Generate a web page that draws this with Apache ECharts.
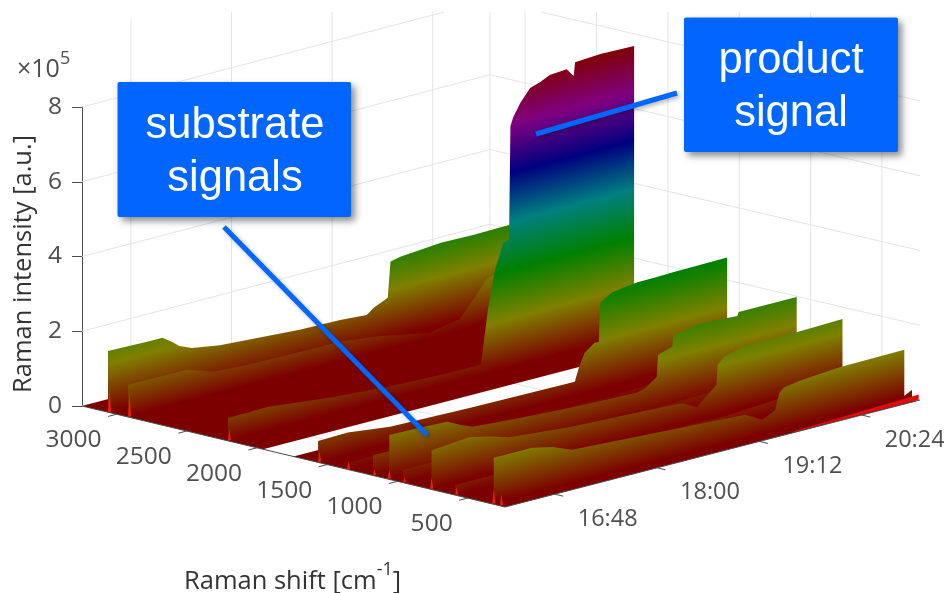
<!DOCTYPE html>
<html>
<head>
<meta charset="utf-8">
<style>
html,body{margin:0;padding:0;background:#fff}
#c{width:944px;height:593px;filter:blur(0.75px)}
</style>
<script src="https://cdn.jsdelivr.net/npm/echarts@6/dist/echarts.min.js"></script>
</head>
<body>
<div id="c"></div>
<script>
// ---- tick labels and axis values (times are minutes after 16:00, intensity in 1e5 a.u.)
const timeTickLabels = ['16:48', '18:00', '19:12', '20:24'];
const timeTicks = [48, 120, 192, 264];
const shiftTicks = [3000, 2500, 2000, 1500, 1000, 500];
const levelTicks = [2, 4, 6, 8];
const timeLimits = [13, 305];
const shiftLimits = [234, 3246];

// ---- band positions (Raman shift, cm-1)
const bandShifts = [3061, 2918, 2207, 1565, 1359, 1174, 1068, 960, 767, 589, 324, 270];

// ---- band time courses
const tA = [13,41,52,59,64,73,93,150,179,198,203,213,214,215,222,251,274,301];
const zA = [1.64,1.61,1.61,1.43,1.27,1.13,1.01,.86,.84,.79,.93,1.10,1.57,2.05,2.11,2.20,2.18,2.20];
const tB = [13,55,74,98,150,164,193,228,250,270,301];
const zB = [.86,.85,.61,.56,.53,.53,.40,.14,.3,1.2,1.5];
const tC = [13,41,88,126,164,193,198,203,209,213,214,216,221,228,235,242,254,259,260,278,302];
const zC = [.61,.63,.44,.33,.28,.27,1.70,2.71,3.38,3.42,6.45,6.67,7.00,7.33,7.42,7.54,7.58,7.35,7.71,7.75,7.73];
const tD = [13,34,64,121,195,198,202,209,212,213,216,221,231,240,252,264,303];
const zD = [.57,.59,.45,.40,.37,.74,1.08,1.28,1.27,2.31,2.39,2.50,2.56,2.60,2.60,2.62,2.64];
const tL1 = [13,60,120,200,303];
const zL1 = [.17,.18,.12,.12,.3];
const tL2 = [13,60,120,200,303];
const zL2 = [.55,.5,.3,.3,.4];
const tE = [14,36,55,64,73,106,142,189,195,203,204,214,215,221,233,260,261,302];
const zE = [1.17,1.15,1.12,.95,.81,.72,.64,.58,.65,.87,1.45,1.57,1.88,1.91,2.00,1.94,2.04,2.04];
const tL3 = [13,34,120,200,303];
const zL3 = [.34,.35,.25,.25,.4];
const tF = [14,41,57,69,112,161,191,201,207,215,216,220,227,234,244,255,279,304];
const zF = [1.03,1.12,.98,.84,.69,.61,.55,.35,.54,.81,1.34,1.50,1.57,1.64,1.65,1.65,1.67,1.70];
const tL4 = [13,60,190,205,225,303];
const zL4 = [.27,.27,.25,.25,.3,.5];
const tG = [14,41,55,69,117,191,203,212,215,218,228,239,258,303];
const zG = [1.23,1.23,1.11,.90,.80,.64,.39,.56,.99,1.10,1.17,1.21,1.26,1.28];
const tL5 = [14,120,250,295,303];
const zL5 = [.05,.05,.06,.1,.26];

// ---- thin bright baseline near the front edge
const edgeShift = 243;
const tEdge = [217, 305];
const zEdge = [.02, .14];

// ---- short spikes at the first scan: height per band
const spikeHeights = [.7, .65, .3, .3, .2, .15, .25, .15, .3, .2, .4, .3];
const spikeTime = 14;

// ---- shift ranges with a near-zero baseline (white gap between them)
const baselineRanges = [[234, 1740], [1957, 3246]];

const bandTimes = [tA, tB, tC, tD, tL1, tL2, tE, tL3, tF, tL4, tG, tL5];
const bandValues = [zA, zB, zC, zD, zL1, zL2, zE, zL3, zF, zL4, zG, zL5];

// ---- colour map: equal steps of intensity up to colormapTop
const colormap = ['#7c0000', '#808000', '#008000', '#008080', '#000080', '#800080', '#800000'];
const colormapTop = 7.8;

// ---- view projection: floor corners on screen
const floorCorners = { frontX: 505, frontY: 507, rightX: 920, rightY: 400, leftX: 82, leftY: 406, backX: 490, backY: 299 };
const pxPerUnit = 299 / 8;
const cropTopY = 12;
const axisColor = '#4a4a4a', gridColor = '#e4e4e6', textColor = '#4f4f4f';
const fontFam = '"Open Sans","Noto Sans",sans-serif';
const tickFont = 24.5, timeFont = 23.5, titleFont = 25.5;

function floorPoint(t, s) {
  const u = (t - timeLimits[0]) / (timeLimits[1] - timeLimits[0]);
  const v = (s - shiftLimits[0]) / (shiftLimits[1] - shiftLimits[0]);
  const c = floorCorners;
  const x = (1 - v) * (c.frontX + u * (c.rightX - c.frontX)) + v * (c.leftX + u * (c.backX - c.leftX));
  const y = (1 - v) * (c.frontY + u * (c.rightY - c.frontY)) + v * (c.leftY + u * (c.backY - c.leftY));
  return [x, y];
}
// data pair in the hidden x axis / real intensity axis
function project(t, s, z) {
  const p = floorPoint(t, s);
  return [p[0], (floorCorners.leftY - p[1]) / pxPerUnit + z];
}
function clipTop(a, b) {
  if (a[1] >= cropTopY && b[1] >= cropTopY) return [a, b];
  const f = (cropTopY - a[1]) / (b[1] - a[1]);
  const m = [a[0] + f * (b[0] - a[0]), cropTopY];
  return a[1] < cropTopY ? [m, b] : [a, m];
}
function line(a, b, color, width) {
  return { type: 'line', shape: { x1: a[0], y1: a[1], x2: b[0], y2: b[1] }, style: { stroke: color, lineWidth: width } };
}

function renderGrid(params, api) {
  const P = (t, s, z) => api.coord(project(t, s, z));
  const kids = [];
  const [t0, t1] = timeLimits, [s0, s1] = shiftLimits;
  const add = (a, b) => { const c = clipTop(a, b); kids.push(line(c[0], c[1], gridColor, 1)); };
  [0].concat(levelTicks).forEach(z => {
    add(P(t0, s1, z), P(t1, s1, z));
    add(P(t1, s1, z), P(t1, s0, z));
  });
  timeTicks.forEach(t => {
    add(P(t, s1, 0), P(t, s1, 10));
    add(P(t, s0, 0), P(t, s1, 0));
  });
  shiftTicks.forEach(s => {
    add(P(t1, s, 0), P(t1, s, 10));
    add(P(t0, s, 0), P(t1, s, 0));
  });
  add(P(t1, s1, 0), P(t1, s1, 10));
  return { type: 'group', children: kids };
}

function renderBaseline(params, api) {
  const r = baselineRanges[api.value(0)];
  const tA0 = timeLimits[0], tA1 = 303;
  const pts = [[tA0, r[0]], [tA1, r[0]], [tA1, r[1]], [tA0, r[1]]].map(q => api.coord(project(q[0], q[1], 0)));
  return { type: 'polygon', shape: { points: pts }, style: { fill: colormap[0] } };
}

function bandGradient(api, s, t) {
  const a = api.coord(project(t[0], s, 0));
  const b = api.coord(project(t[t.length - 1], s, 0));
  const top = api.coord(project(t[0], s, colormapTop));
  const dx = b[0] - a[0], dy = b[1] - a[1];
  const len = Math.hypot(dx, dy);
  const nx = dy / len, ny = -dx / len;            // unit normal pointing up the screen
  const h = (top[0] - a[0]) * nx + (top[1] - a[1]) * ny;
  const stops = colormap.map((c, i) => ({ offset: i / (colormap.length - 1), color: c }));
  return new echarts.graphic.LinearGradient(a[0], a[1], a[0] + nx * h, a[1] + ny * h, stops, true);
}

function renderBand(params, api) {
  const i = api.value(0);
  const s = bandShifts[i], t = bandTimes[i], z = bandValues[i];
  const pts = t.map((tt, k) => api.coord(project(tt, s, z[k])));
  pts.push(api.coord(project(t[t.length - 1], s, 0)));
  pts.push(api.coord(project(t[0], s, 0)));
  const spike = [
    api.coord(project(spikeTime - 1, s, 0)),
    api.coord(project(spikeTime + 1.2, s, 0)),
    api.coord(project(spikeTime, s, spikeHeights[i]))
  ];
  return {
    type: 'group',
    children: [
      { type: 'polygon', shape: { points: pts }, style: { fill: bandGradient(api, s, t) } },
      { type: 'polygon', shape: { points: spike }, style: { fill: '#e82400' } }
    ]
  };
}

function renderEdge(params, api) {
  const pts = tEdge.map((t, k) => api.coord(project(t, edgeShift, zEdge[k])));
  pts.push(api.coord(project(tEdge[1], edgeShift, 0)));
  pts.push(api.coord(project(tEdge[0], edgeShift, 0)));
  return { type: 'polygon', shape: { points: pts }, style: { fill: '#e00c0c' } };
}

function renderAxes(params, api) {
  const P = (t, s, z) => api.coord(project(t, s, z));
  const kids = [];
  const [t0, t1] = timeLimits, [s0, s1] = shiftLimits;
  kids.push(line(P(t0, s1, 0), P(t0, s0, 0), axisColor, 1));
  kids.push(line(P(t0, s0, 0), P(t1, s0, 0), axisColor, 1));
  const label = (text, x, y, align, size) => ({
    type: 'text',
    style: { text, x, y, align, verticalAlign: 'middle', fill: textColor, fontSize: size, fontFamily: fontFam }
  });
  shiftTicks.forEach(s => {
    const a = P(t0, s, 0);
    kids.push(line(a, P(t0 - 6, s, 0), axisColor, 1));
    kids.push(label(String(s), a[0] - 15, a[1] + 26, 'right', tickFont));
  });
  timeTicks.forEach((t, i) => {
    const a = P(t, s0, 0);
    kids.push(line(a, P(t, s0 - 60, 0), axisColor, 1));
    kids.push(label(timeTickLabels[i], a[0] + 23, a[1] + 25, 'left', timeFont));
  });
  return { type: 'group', children: kids };
}

const boxFill = '#0066ff';
function callout(x, y, w, h, cx, lines, ys) {
  const items = [{
    type: 'rect', z: 100, shape: { x, y, width: w, height: h, r: 2 },
    style: { fill: boxFill, shadowBlur: 7, shadowOffsetX: 4, shadowOffsetY: 4, shadowColor: 'rgba(0,0,0,0.45)' }
  }];
  lines.forEach((txt, i) => items.push({
    type: 'text', z: 101, style: {
      text: txt, x: cx, y: ys[i], align: 'center', verticalAlign: 'middle', fill: '#fff',
      fontSize: 43.5, fontFamily: '"Liberation Sans",Arial,sans-serif'
    }
  }));
  return items;
}
function leader(a, b) {
  return {
    type: 'line', z: 99, shape: { x1: a[0], y1: a[1], x2: b[0], y2: b[1] },
    style: { stroke: boxFill, lineWidth: 5, shadowBlur: 4, shadowOffsetX: 2, shadowOffsetY: 2, shadowColor: 'rgba(0,0,0,0.3)' }
  };
}

const chart = echarts.init(document.getElementById('c'), null, { renderer: 'canvas' });
chart.setOption({
  animation: false,
  backgroundColor: '#fff',
  grid: { left: 82, right: 24, top: 107, bottom: 187 },
  xAxis: { type: 'value', min: 82, max: 920, show: false },
  yAxis: {
    type: 'value', min: 0, max: 8, interval: 2,
    axisLine: { show: true, lineStyle: { color: axisColor, width: 1 } },
    axisTick: { show: true, length: 10, lineStyle: { color: axisColor } },
    axisLabel: { margin: 20, color: textColor, fontSize: tickFont, fontFamily: fontFam },
    splitLine: { show: false }
  },
  series: [
    { type: 'custom', z: 1, renderItem: renderGrid, data: [[0]], silent: true },
    { type: 'custom', z: 2, renderItem: renderBaseline, data: baselineRanges.map((r, i) => [i]), silent: true },
    { type: 'custom', z: 3, renderItem: renderBand, data: bandShifts.map((s, i) => [i]), silent: true },
    { type: 'custom', z: 4, renderItem: renderEdge, data: [[0]], silent: true },
    { type: 'custom', z: 5, renderItem: renderAxes, data: [[0]], silent: true }
  ],
  graphic: [
    leader([224, 227], [427, 435]),
    leader([536, 134], [677, 93])
  ].concat(
    callout(117.5, 82, 233.5, 135, 235, ['substrate', 'signals'], [126, 179]),
    callout(684, 17.5, 214, 134.5, 791, ['product', 'signal'], [61, 114]),
    [
      {
        type: 'text', z: 50, rotation: Math.PI / 2, x: 24, y: 393,
        style: { text: 'Raman intensity [a.u.]', align: 'left', verticalAlign: 'middle', fill: '#333', fontSize: titleFont, fontFamily: fontFam }
      },
      {
        type: 'text', z: 50, x: 184, y: 578,
        style: {
          text: '{a|Raman shift [cm}{b|-1}{a|]}', align: 'left', verticalAlign: 'middle',
          rich: {
            a: { fill: '#333', fontSize: titleFont, fontFamily: fontFam, lineHeight: 34, verticalAlign: 'bottom' },
            b: { fill: '#333', fontSize: 18, fontFamily: fontFam, lineHeight: 34, verticalAlign: 'top' }
          }
        }
      },
      {
        type: 'text', z: 50, x: 17, y: 66,
        style: {
          text: '{a|\u00d710}{b|5}', align: 'left', verticalAlign: 'middle',
          rich: {
            a: { fill: textColor, fontSize: 25, fontFamily: fontFam, lineHeight: 32, verticalAlign: 'bottom' },
            b: { fill: textColor, fontSize: 18, fontFamily: fontFam, lineHeight: 32, verticalAlign: 'top' }
          }
        }
      }
    ]
  )
});
</script>
</body>
</html>
